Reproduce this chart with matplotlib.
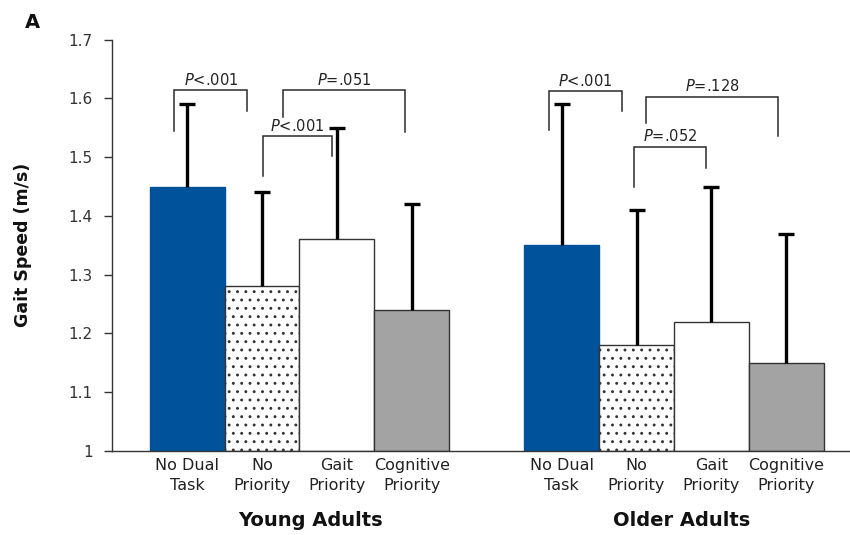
import numpy as np
import matplotlib.pyplot as plt

plt.rcParams["font.family"] = ["DejaVu Sans"]
plt.rcParams["mathtext.fontset"] = "dejavusans"
plt.rcParams["hatch.linewidth"] = 0.9
plt.rcParams["hatch.color"] = "#555555"

# ------------------------------------------------------------
# data: mean gait speed (m/s) and upper error bar tip
# ------------------------------------------------------------
conditions = ["No Dual\nTask", "No\nPriority", "Gait\nPriority", "Cognitive\nPriority"]
groups = ["Young Adults", "Older Adults"]

young_mean = [1.45, 1.28, 1.36, 1.24]
young_top = [1.59, 1.44, 1.55, 1.42]
older_mean = [1.35, 1.18, 1.22, 1.15]
older_top = [1.59, 1.41, 1.45, 1.37]

# significance brackets: x-left, x-right, top, left leg end, right leg end, label
br_x0 = [-0.17, 1.01, 1.28, 4.83, 5.96, 6.13]
br_x1 = [0.80, 1.93, 2.91, 5.80, 6.93, 7.89]
br_top = [1.614, 1.536, 1.614, 1.612, 1.518, 1.603]
br_left = [1.545, 1.468, 1.568, 1.546, 1.449, 1.558]
br_right = [1.578, 1.502, 1.543, 1.578, 1.481, 1.536]
br_text = ["<.001", "<.001", "=.051", "<.001", "=.052", "=.128"]

# bar styles per condition
faces = ["#00529b", "white", "white", "#a3a3a3"]
hatches = [None, "..", None, None]

fig = plt.figure(figsize=(8.5, 5.35), dpi=100)
ax = fig.add_axes([0.132, 0.157, 0.868, 0.769])

pos_young = np.arange(4)
pos_older = np.arange(4) + 5

for pos, means, tops in [(pos_young, young_mean, young_top),
                         (pos_older, older_mean, older_top)]:
    for i in range(4):
        ax.bar(pos[i], means[i] - 1, bottom=1, width=1.0, color=faces[i],
               edgecolor="#333333" if i > 0 else faces[i], linewidth=1.0,
               hatch=hatches[i], zorder=2)
        # upper-only error bar; hide the cap sitting on the bar top
        eb = ax.errorbar(pos[i], means[i], yerr=[[0], [tops[i] - means[i]]],
                         fmt="none", ecolor="black", elinewidth=2.4,
                         capsize=5.5, capthick=2.4, zorder=3)
        eb[1][0].set_visible(False)

# brackets with P values
for x0, x1, top, yl, yr, t in zip(br_x0, br_x1, br_top, br_left, br_right, br_text):
    ax.plot([x0, x0, x1, x1], [yl, top, top, yr], color="#2a2a2a",
            lw=1.1, zorder=4, solid_joinstyle="miter")
    ax.text((x0 + x1) / 2, top + 0.004, r"$\it{P}$" + t, ha="center",
            va="bottom", fontsize=10.5, color="#222222")

ax.set_xlim(-1.0, 8.85)
ax.set_ylim(1.0, 1.7)
yt = np.round(np.arange(1.0, 1.71, 0.1), 1)
ax.set_yticks(yt)
ax.set_yticklabels(["1"] + [f"{v:.1f}" for v in yt[1:]], fontsize=11,
                   color="#333333")
ax.tick_params(axis="y", direction="out", length=6, width=1.0,
               color="#333333", pad=8)

ax.set_xticks(list(pos_young) + list(pos_older))
ax.set_xticklabels(conditions * 2, fontsize=11.5, color="#222222",
                   linespacing=1.45)
ax.tick_params(axis="x", length=0, pad=5)

for s in ["top", "right"]:
    ax.spines[s].set_visible(False)
for s in ["left", "bottom"]:
    ax.spines[s].set_color("#333333")
    ax.spines[s].set_linewidth(1.0)

ax.text(1.65, -0.168, groups[0], transform=ax.get_xaxis_transform(),
        ha="center", va="center", fontsize=14, fontweight="bold",
        color="#111111")
ax.text(6.6, -0.168, groups[1], transform=ax.get_xaxis_transform(),
        ha="center", va="center", fontsize=14, fontweight="bold",
        color="#111111")

ax.set_ylabel("Gait Speed (m/s)", fontsize=12.5, fontweight="bold",
              color="#111111", labelpad=26)
fig.text(0.038, 0.958, "A", fontsize=14, fontweight="bold",
         ha="center", va="center", color="#111111")

fig.savefig("out.png", dpi=100)
